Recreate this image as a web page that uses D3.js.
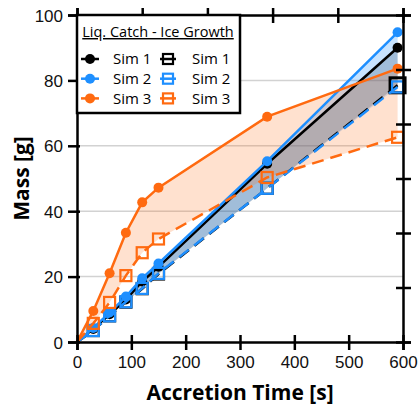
<!DOCTYPE html>
<html>
<head>
<meta charset="utf-8">
<script src="https://cdn.jsdelivr.net/npm/d3@7"></script>
<style>
  body { margin: 0; background: #fff; }
  svg { font-family: "Open Sans", sans-serif; }
  .tick text { font-size: 17px; fill: #111; }
</style>
</head>
<body>
<div id="chart"></div>
<script>
// accretion times [s]
const times = [0, 30, 60, 90, 120, 150, 350, 590];

// liquid catch (solid lines, filled circles)
const sim1Liq = [0, 4, 8.5, 13, 18.5, 23, 54.5, 90];
const sim2Liq = [0, 4.3, 9, 13.9, 19.5, 24, 55.3, 94.7];
const sim3Liq = [0, 9.5, 21, 33.4, 42.7, 47.2, 68.9, 83.6];

// ice growth (dashed lines, open squares)
const sim1Ice = [0, 3.5, 8, 12.2, 16.3, 20.8, 47, 78.5];
const sim2Ice = [0, 3.5, 8, 12.3, 16.4, 21, 47, 78];
const sim3Ice = [0, 5.7, 12.1, 20.3, 27.3, 31.5, 50.3, 62.6];

const yTicks = [0, 20, 40, 60, 80, 100];
const xTicks = [0, 100, 200, 300, 400, 500, 600];
const simNames = ['Sim 1', 'Sim 2', 'Sim 3'];

const config = {
  width: 419, height: 408,
  margin: {top: 15, right: 16, bottom: 66, left: 77}
};
const colors = ['#000000', '#1e8fff', '#ff6a10'];
const fills = ['rgba(0,0,0,0.2)', 'rgba(30,143,255,0.25)', 'rgba(255,106,16,0.2)'];

const svg = d3.select('#chart').append('svg')
    .attr('width', config.width)
    .attr('height', config.height);

const x = d3.scaleLinear().domain([0, 600])
    .range([config.margin.left, config.width - config.margin.right]);
const y = d3.scaleLinear().domain([0, 100])
    .range([config.height - config.margin.bottom, config.margin.top]);

// gridlines
svg.append('g').selectAll('line')
    .data(yTicks.filter(d => d > 0 && d < 100))
  .join('line')
    .attr('x1', x(0)).attr('x2', x(600))
    .attr('y1', d => y(d)).attr('y2', d => y(d))
    .attr('stroke', '#d2d2d2').attr('stroke-width', 1.5);

const series = [
  {liq: sim1Liq, ice: sim1Ice},
  {liq: sim2Liq, ice: sim2Ice},
  {liq: sim3Liq, ice: sim3Ice}
];

// shaded band between liquid catch and ice growth
const area = d3.area()
    .x((d, i) => x(times[i]))
    .y0(d => y(d[1]))
    .y1(d => y(d[0]));

series.forEach((s, k) => {
  svg.append('path')
      .datum(s.liq.map((v, i) => [v, s.ice[i]]))
      .attr('d', area)
      .attr('fill', fills[k]);
});

const line = d3.line().x((d, i) => x(times[i])).y(d => y(d));

// draw order: black, blue, orange
[0, 1, 2].forEach(k => {
  const s = series[k];
  svg.append('path')
      .attr('d', line(s.ice))
      .attr('fill', 'none')
      .attr('stroke', colors[k])
      .attr('stroke-width', 2.5)
      .attr('stroke-dasharray', '12,7');
  svg.append('path')
      .attr('d', line(s.liq))
      .attr('fill', 'none')
      .attr('stroke', colors[k])
      .attr('stroke-width', 2.5);
  // the last black square is drawn larger so it shows round the blue one
  const sq = i => (k === 0 && i === times.length - 2) ? 15 : 11;
  svg.append('g').selectAll('rect')
      .data(s.ice.slice(1))
    .join('rect')
      .attr('x', (d, i) => x(times[i + 1]) - sq(i) / 2)
      .attr('y', (d, i) => y(d) - sq(i) / 2)
      .attr('width', (d, i) => sq(i)).attr('height', (d, i) => sq(i))
      .attr('fill', 'none')
      .attr('stroke', colors[k])
      .attr('stroke-width', (d, i) => sq(i) > 11 ? 3 : 2.2);
  svg.append('g').selectAll('circle')
      .data(s.liq.slice(1))
    .join('circle')
      .attr('cx', (d, i) => x(times[i + 1]))
      .attr('cy', d => y(d))
      .attr('r', 5)
      .attr('fill', colors[k]);
});

// axes with ticks crossing the frame
const yAxis = svg.append('g')
    .attr('transform', `translate(${x(0)},0)`)
    .call(d3.axisLeft(y).tickValues(yTicks).tickSize(9).tickPadding(5));
const xAxis = svg.append('g')
    .attr('transform', `translate(0,${y(0)})`)
    .call(d3.axisBottom(x).tickValues(xTicks).tickSize(8).tickPadding(6));

const topScale = d3.scaleLinear().domain([0, 5]).range(x.range());
const topAxis = svg.append('g')
    .attr('transform', `translate(0,${y(100)})`)
    .call(d3.axisTop(topScale).ticks(5).tickSize(7).tickFormat(''));
const rightScale = d3.scaleLinear().domain([0, 6]).range(y.range());
const rightAxis = svg.append('g')
    .attr('transform', `translate(${x(600)},0)`)
    .call(d3.axisRight(rightScale).ticks(6).tickSize(8).tickFormat(''));

yAxis.selectAll('.tick line').attr('x2', -9).attr('x1', 3);
xAxis.selectAll('.tick line').attr('y1', -7).attr('y2', 8);
topAxis.selectAll('.tick line').attr('y1', 8).attr('y2', -7);
rightAxis.selectAll('.tick line').attr('x1', -7).attr('x2', 8);

[yAxis, xAxis, topAxis, rightAxis].forEach(a => {
  a.selectAll('.domain').attr('stroke', '#000').attr('stroke-width', 2.5);
  a.selectAll('.tick line').attr('stroke', '#000').attr('stroke-width', 2.5);
});
yAxis.selectAll('.tick text').attr('dy', '0.36em');

// axis titles
svg.append('text')
    .attr('x', (x(0) + x(600)) / 2)
    .attr('y', 400)
    .attr('text-anchor', 'middle')
    .attr('font-size', 21)
    .attr('font-weight', 'bold')
    .text('Accretion Time [s]');
svg.append('text')
    .attr('transform', `translate(29,${(y(0) + y(100)) / 2}) rotate(-90)`)
    .attr('text-anchor', 'middle')
    .attr('font-size', 21)
    .attr('font-weight', 'bold')
    .text('Mass [g]');

// legend
const legend = svg.append('g').attr('transform', `translate(${x(0)},${y(100)})`);
legend.append('rect')
    .attr('width', 163).attr('height', 98)
    .attr('fill', '#fff')
    .attr('stroke', '#000').attr('stroke-width', 2.5);
legend.append('text')
    .attr('x', 81).attr('y', 22)
    .attr('text-anchor', 'middle')
    .attr('font-size', 14.5)
    .attr('text-decoration', 'underline')
    .text('Liq. Catch - Ice Growth');

simNames.forEach((name, k) => {
  const ry = 44 + k * 19.7;
  const row = legend.append('g').attr('transform', `translate(0,${ry})`);
  row.append('line').attr('x1', 4).attr('x2', 22)
      .attr('stroke', colors[k]).attr('stroke-width', 2.5);
  row.append('circle').attr('cx', 13).attr('r', 5).attr('fill', colors[k]);
  row.append('text').attr('x', 36).attr('dy', '0.36em')
      .attr('font-size', 15).text(name);
  row.append('line').attr('x1', 83).attr('x2', 99)
      .attr('stroke', colors[k]).attr('stroke-width', 2.5);
  row.append('rect').attr('x', 86).attr('y', -5).attr('width', 10).attr('height', 10)
      .attr('fill', 'none').attr('stroke', colors[k]).attr('stroke-width', 2.2);
  row.append('text').attr('x', 115).attr('dy', '0.36em')
      .attr('font-size', 15).text(name);
});
</script>
</body>
</html>
